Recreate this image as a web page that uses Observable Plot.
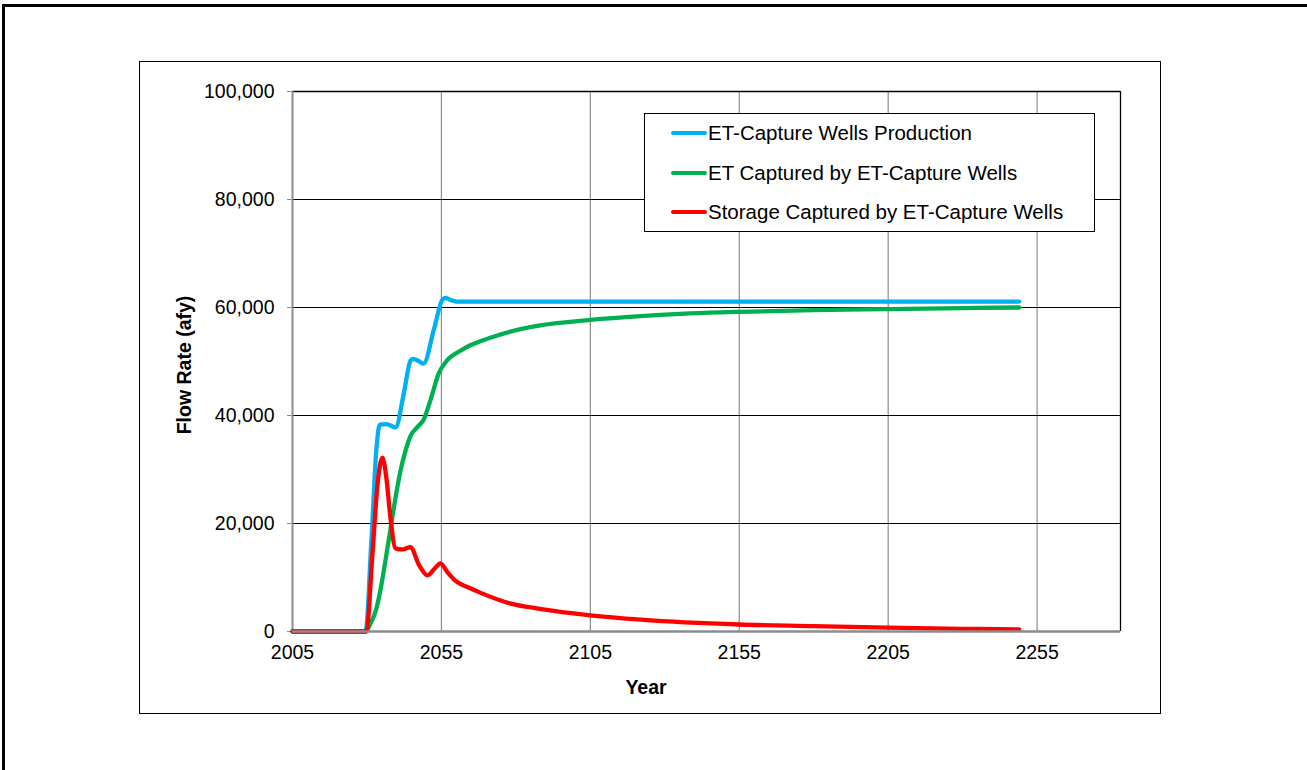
<!DOCTYPE html>
<html>
<head>
<meta charset="utf-8">
<script src="https://cdn.jsdelivr.net/npm/d3@7"></script>
<script src="https://cdn.jsdelivr.net/npm/@observablehq/plot@0.6"></script>
<style>
  html, body { margin: 0; padding: 0; background: #fff; }
  body { width: 1307px; height: 770px; position: relative; overflow: hidden; font-family: "Liberation Sans", Arial, sans-serif; }
  #outer { position: absolute; left: 2px; top: 4px; width: 1310px; height: 780px; border-left: 3px solid #000; border-top: 3px solid #000; box-sizing: border-box; }
  #inner { position: absolute; left: 139px; top: 61px; width: 1022px; height: 653px; border: 1.5px solid #000; box-sizing: border-box; }
  #chart { position: absolute; left: 0; top: 0; }
  #legend { position: absolute; left: 644px; top: 113px; width: 451px; height: 119px; border: 1.5px solid #000; box-sizing: border-box; background: #fff; }
  .item { position: absolute; left: 26px; height: 24px; font-size: 20.5px; color: #000; white-space: nowrap; }
  .sw { position: absolute; left: 0; top: 10px; width: 36px; height: 4px; border-radius: 2px; }
  .lab { position: absolute; left: 37px; top: 0; line-height: 24px; }
  #ylab { position: absolute; left: 184px; top: 365px; transform: translate(-50%, -50%) rotate(-90deg); font-weight: bold; font-size: 19.5px; white-space: nowrap; }
  #xlab { position: absolute; left: 646px; top: 687px; transform: translate(-50%, -50%); font-weight: bold; font-size: 19.5px; }
</style>
</head>
<body>
<div id="outer"></div>
<div id="inner"></div>
<div id="chart"></div>
<div id="ylab">Flow Rate (afy)</div>
<div id="xlab">Year</div>
<div id="legend"></div>
<script>
// ---- data ----
const seriesNames = ["ET-Capture Wells Production", "ET Captured by ET-Capture Wells", "Storage Captured by ET-Capture Wells"];
const seriesColors = ["#00B0F0", "#00B050", "#FF0000"];

const productionYears = [2005, 2029.5, 2031.5, 2033.2, 2034.3, 2036.5, 2039.6, 2042.5, 2044.5, 2045.4, 2047.3, 2049, 2052.5, 2055.2, 2056.3, 2058, 2060, 2080, 2120, 2160, 2200, 2249];
const productionValues = [0, 0, 17000, 34000, 38300, 38400, 37800, 44500, 50000, 50500, 50100, 49600, 56000, 61300, 61800, 61400, 61100, 61100, 61100, 61100, 61100, 61100];

const etYears = [2005, 2029.5, 2031.2, 2033, 2034.5, 2036.2, 2038, 2039.6, 2041.2, 2042.9, 2044.6, 2047, 2049.1, 2051.3, 2054.1, 2056.9, 2061.4, 2064.7, 2071.4, 2081.5, 2088.2, 2105, 2121.8, 2138.6, 2155.3, 2180, 2205, 2230, 2249];
const etValues = [0, 0, 1500, 3900, 7600, 13100, 19300, 24800, 29600, 33400, 36200, 37900, 39300, 42800, 47800, 50200, 52000, 53000, 54400, 56000, 56700, 57700, 58400, 58900, 59200, 59500, 59700, 59900, 60000];

const storageYears = [2005, 2029.8, 2031.8, 2033.6, 2035.2, 2036.5, 2038, 2039.6, 2042, 2044.6, 2047.5, 2050.3, 2052.5, 2054.7, 2057, 2059.7, 2064.7, 2068, 2078, 2088, 2105, 2122, 2155, 2180, 2205, 2230, 2249];
const storageValues = [0, 0, 14000, 27500, 32200, 28500, 20500, 15400, 15200, 15600, 12300, 10400, 11500, 12600, 11000, 9400, 8000, 7200, 5200, 4200, 3000, 2200, 1300, 1000, 700, 500, 400];

const xTicks = [2005, 2055, 2105, 2155, 2205, 2255];
const yTicks = [0, 20000, 40000, 60000, 80000, 100000];
const xGrid = [2055, 2105, 2155, 2205, 2255];
const yGrid = [20000, 40000, 60000, 80000];

// ---- build table ----
const rows = [];
[[productionYears, productionValues], [etYears, etValues], [storageYears, storageValues]].forEach(([ys, vs], i) => {
  ys.forEach((y, j) => rows.push({series: seriesNames[i], year: y, value: vs[j]}));
});

const xMax = 2283;
const chart = Plot.plot({
  width: 1307,
  height: 770,
  marginLeft: 292,
  marginRight: 187,
  marginTop: 91,
  marginBottom: 139,
  style: {fontFamily: "Liberation Sans, Arial, sans-serif", fontSize: "19.5px", color: "#000", background: "transparent", overflow: "visible"},
  x: {domain: [2005, xMax]},
  y: {domain: [0, 100000]},
  color: {domain: seriesNames, range: seriesColors},
  marks: [
    Plot.ruleX(xGrid, {stroke: "#8c8c8c", strokeWidth: 1.2}),
    Plot.ruleY(yGrid, {stroke: "#000", strokeWidth: 1.2}),
    Plot.ruleY([100000], {stroke: "#000", strokeWidth: 1.3}),
    Plot.ruleX([xMax], {stroke: "#000", strokeWidth: 1.3}),
    Plot.ruleX([2005], {stroke: "#8c8c8c", strokeWidth: 2}),
    Plot.axisY({ticks: yTicks, tickFormat: d3.format(","), tickSize: 5, tickPadding: 13, label: null, stroke: "#8c8c8c", fill: "#000", fontSize: 19.5}),
    Plot.axisX({ticks: xTicks, tickFormat: d => String(d), tickSize: 0, tickPadding: 14, label: null, fill: "#000", fontSize: 19.5}),
    Plot.line(rows, {x: "year", y: "value", z: "series", stroke: "series", strokeWidth: 4.3, curve: "monotone-x", strokeLinecap: "round", strokeLinejoin: "round"}),
    Plot.ruleY([0], {stroke: "#8c8c8c", strokeWidth: 2.5})
  ]
});
document.getElementById("chart").appendChild(chart);

// ---- legend ----
const legend = document.getElementById("legend");
seriesNames.forEach((name, i) => {
  const item = document.createElement("div");
  item.className = "item";
  item.style.top = (7 + i * 39.5) + "px";
  const sw = document.createElement("div");
  sw.className = "sw";
  sw.style.background = seriesColors[i];
  const lab = document.createElement("div");
  lab.className = "lab";
  lab.textContent = name;
  item.appendChild(sw);
  item.appendChild(lab);
  legend.appendChild(item);
});
</script>
</body>
</html>
